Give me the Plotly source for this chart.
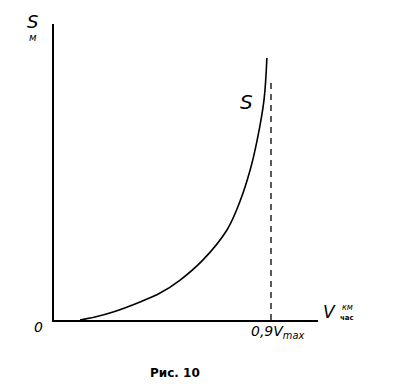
import plotly.graph_objects as go

# Curve S(V), V in units of Vmax, S normalised to axis height
v_vals = [0.108, 0.170, 0.245, 0.357, 0.440, 0.523, 0.618, 0.718, 0.771, 0.813, 0.842, 0.871, 0.883]
s_vals = [0.000, 0.010, 0.027, 0.061, 0.091, 0.135, 0.203, 0.305, 0.400, 0.505, 0.605, 0.743, 0.885]

marker_v = 0.9          # 0,9 Vmax
marker_top = 0.81       # height of dashed guide
x_range = [0, 1.095]
y_range = [0, 1.0]

fig = go.Figure()
fig.add_trace(go.Scatter(x=v_vals, y=s_vals, mode="lines",
                         line=dict(color="black", width=1.6, shape="spline", smoothing=1.0),
                         hoverinfo="skip"))
fig.add_trace(go.Scatter(x=[marker_v, marker_v], y=[0, marker_top], mode="lines",
                         line=dict(color="black", width=1.3, dash="6px,5px"), hoverinfo="skip"))

font = dict(family="DejaVu Sans", color="black")


def a(x, y, text, size, **kw):
    d = dict(x=x, y=y, xref="paper", yref="paper", text=text, showarrow=False,
             xanchor="center", yanchor="middle", font=dict(size=size, **font))
    d.update(kw)
    return d


ann = [
    a(-0.083, 1.010, "<i>S</i>", 18),
    a(-0.078, 0.955, "<i>м</i>", 10),
    a(0.728, 0.736, "<i>S</i>", 20),
    a(-0.058, -0.024, "<i>0</i>", 14),
    a(0.848, -0.041, "<i>0,9V<sub>max</sub></i>", 14),
    a(1.045, 0.027, "<i>V</i>", 17),
    a(1.11, 0.043, "<i>км</i>", 8),
    a(1.11, 0.008, "<b>час</b>", 7),
    a(0.458, -0.179, "<b>Рис. 10</b>", 12),
]

fig.update_layout(
    width=396, height=387,
    margin=dict(l=46, r=86, t=16, b=75),
    paper_bgcolor="white", plot_bgcolor="white",
    showlegend=False,
    annotations=ann,
    xaxis=dict(range=x_range, showgrid=False, zeroline=False, showticklabels=False, ticks="",
               showline=True, linecolor="black", linewidth=2, mirror=False),
    yaxis=dict(range=y_range, showgrid=False, zeroline=False, showticklabels=False, ticks="",
               showline=True, linecolor="black", linewidth=2, mirror=False),
)
fig.write_html("out.html")
